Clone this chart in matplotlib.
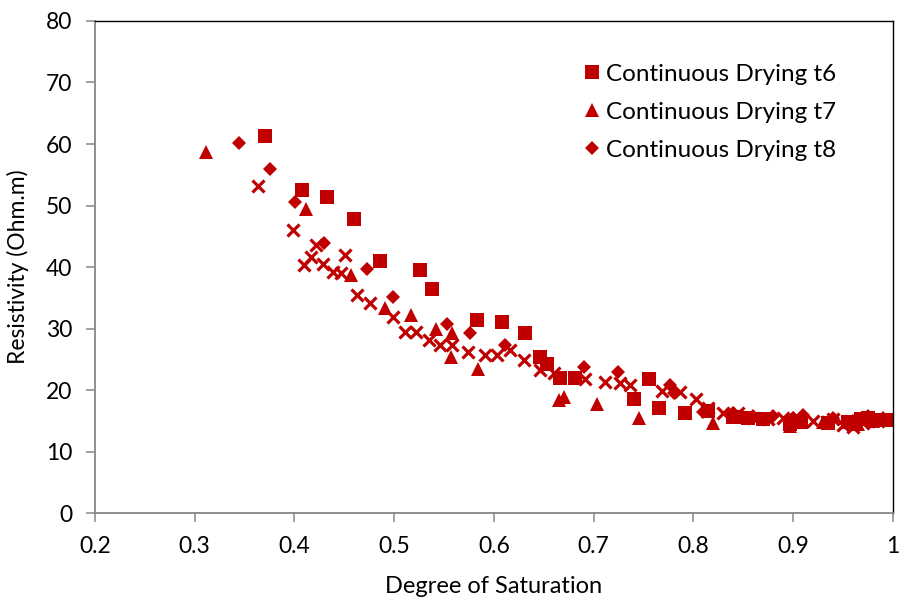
import matplotlib.pyplot as plt

plt.rcParams['font.family'] = ['Lato', 'DejaVu Sans']

red = '#C00000'

# Continuous Drying t6 (squares)
t6_x = [0.370, 0.408, 0.433, 0.460, 0.486, 0.526, 0.538, 0.583, 0.608, 0.631,
        0.646, 0.653, 0.666, 0.681, 0.755, 0.740, 0.765, 0.792, 0.815, 0.840,
        0.855, 0.870, 0.897, 0.908, 0.935, 0.955, 0.968, 0.975, 0.985, 0.997]
t6_y = [61.3, 52.5, 51.4, 47.8, 41.0, 39.5, 36.4, 31.4, 31.1, 29.3,
        25.4, 24.2, 21.9, 21.9, 21.8, 18.6, 17.0, 16.3, 16.6, 15.6,
        15.5, 15.3, 14.4, 14.8, 14.6, 14.8, 15.3, 15.5, 15.2, 15.2]

# Continuous Drying t7 (triangles)
t7_x = [0.311, 0.412, 0.457, 0.491, 0.517, 0.542, 0.558, 0.557, 0.584, 0.665,
        0.670, 0.703, 0.745, 0.820, 0.845, 0.897, 0.930, 0.965, 0.980]
t7_y = [58.7, 49.4, 38.7, 33.3, 32.2, 30.0, 29.2, 25.4, 23.5, 18.4,
        18.9, 17.8, 15.5, 14.6, 15.6, 14.1, 14.8, 14.5, 15.0]

# Continuous Drying t8 (diamonds)
t8_x = [0.344, 0.375, 0.401, 0.430, 0.473, 0.499, 0.553, 0.576, 0.611, 0.690,
        0.724, 0.776, 0.780, 0.810, 0.840, 0.860, 0.880, 0.900, 0.910, 0.940,
        0.960, 0.975, 0.990]
t8_y = [60.1, 55.9, 50.5, 43.9, 39.6, 35.2, 30.8, 29.2, 27.3, 23.8,
        23.0, 20.8, 19.5, 16.5, 16.2, 15.8, 15.8, 15.5, 16.0, 15.5,
        15.0, 15.7, 15.4]

# fourth series (x markers, not in legend)
t9_x = [0.363, 0.399, 0.410, 0.417, 0.422, 0.429, 0.439, 0.447, 0.451, 0.463,
        0.476, 0.499, 0.511, 0.522, 0.535, 0.546, 0.558, 0.574, 0.591, 0.603,
        0.616, 0.630, 0.646, 0.660, 0.691, 0.711, 0.726, 0.736, 0.768, 0.786,
        0.803, 0.815, 0.830, 0.845, 0.860, 0.875, 0.890, 0.905, 0.920, 0.940,
        0.950, 0.960, 0.970, 0.985]
t9_y = [53.1, 46.0, 40.3, 41.6, 43.6, 40.5, 39.2, 39.0, 42.0, 35.4,
        34.1, 31.9, 29.5, 29.5, 28.1, 27.3, 27.3, 26.2, 25.7, 25.7,
        26.5, 24.9, 23.3, 22.7, 21.8, 21.3, 21.1, 20.8, 19.8, 19.7,
        18.6, 17.0, 16.3, 16.2, 15.5, 15.3, 15.5, 15.4, 14.9, 15.3,
        14.3, 14.0, 14.6, 15.0]

fig = plt.figure(figsize=(9.01, 6.05), dpi=100)
ax = fig.add_axes([0.1054, 0.152, 0.8857, 0.8133])

ax.plot(t6_x, t6_y, 's', color=red, ms=10.5, mew=0, label='Continuous Drying t6')
ax.plot(t7_x, t7_y, '^', color=red, ms=10, mew=0, label='Continuous Drying t7')
ax.plot(t8_x, t8_y, 'D', color=red, ms=7.5, mew=0, label='Continuous Drying t8')
ax.plot(t9_x, t9_y, 'x', color=red, ms=8.5, mew=2.3)

ax.set_xlim(0.2, 1.0)
ax.set_ylim(0, 80)
ax.set_xticks([0.2, 0.3, 0.4, 0.5, 0.6, 0.7, 0.8, 0.9, 1.0])
ax.set_xticklabels(['0.2', '0.3', '0.4', '0.5', '0.6', '0.7', '0.8', '0.9', '1'])
ax.set_yticks(range(0, 81, 10))

for s in ['left', 'bottom']:
    ax.spines[s].set_color('#868686')
    ax.spines[s].set_linewidth(1.3)
for s in ['top', 'right']:
    ax.spines[s].set_color('black')
    ax.spines[s].set_linewidth(1.0)

ax.tick_params(axis='both', direction='out', length=6.5, width=1.1,
               color='#868686', labelsize=16.5)
ax.tick_params(axis='y', pad=10)
ax.tick_params(axis='x', pad=10)

ax.set_xlabel('Degree of Saturation', fontsize=17, labelpad=14)
ax.set_ylabel('Resistivity (Ohm.m)', fontsize=16.5, labelpad=12)

ax.legend(loc='upper left', bbox_to_anchor=(0.58, 0.958), frameon=False,
          fontsize=17.5, handletextpad=0.1, handlelength=1.0, labelspacing=0.7)

fig.savefig('out.png')
